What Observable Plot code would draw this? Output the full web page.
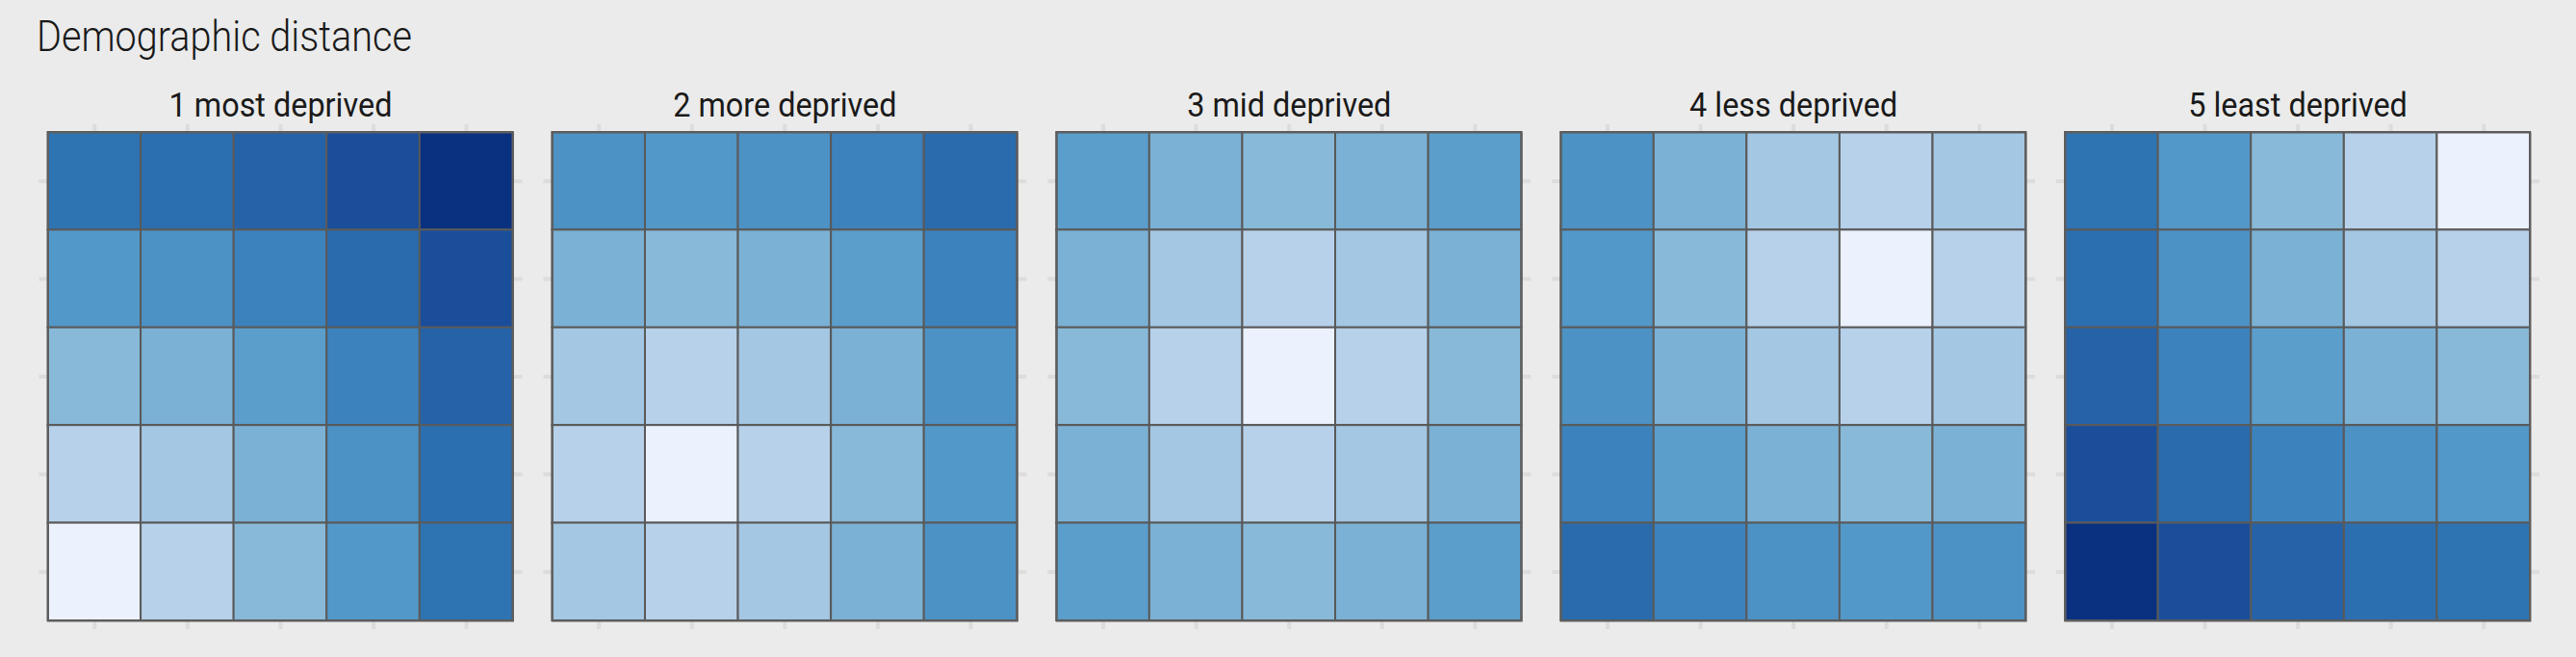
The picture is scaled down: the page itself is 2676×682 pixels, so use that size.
<!DOCTYPE html>
<html>
<head>
<meta charset="utf-8">
<script src="https://cdn.jsdelivr.net/npm/d3@7"></script>
<script src="https://cdn.jsdelivr.net/npm/@observablehq/plot@0.6"></script>
<style>
  html, body { margin: 0; padding: 0; background: #ebebeb; }
  #title { position: relative; height: 70px; width: 2676px; }
  #title span {
    position: absolute; left: 38px; top: 15.6px; display: block;
    font-family: Roboto, sans-serif; font-weight: 300; font-size: 44.5px; line-height: 1;
    color: #1a1a1a; white-space: nowrap; transform: scaleX(0.89); transform-origin: left top;
  }
</style>
</head>
<body>
<div id="title"><span>Demographic distance</span></div>
<div id="chart"></div>
<script>
// Facet categories
const quintiles = ["1 most deprived", "2 more deprived", "3 mid deprived", "4 less deprived", "5 least deprived"];
// Grid columns (left to right) and rows (top to bottom)
const columns = [1, 2, 3, 4, 5];
const rows = [5, 4, 3, 2, 1];

// Distance values per facet, rows listed top to bottom, columns left to right
const dist1 = [
  [4.00, 4.12, 4.47, 5.00, 5.66],
  [3.00, 3.16, 3.61, 4.24, 5.00],
  [2.00, 2.24, 2.83, 3.61, 4.47],
  [1.00, 1.41, 2.24, 3.16, 4.12],
  [0.00, 1.00, 2.00, 3.00, 4.00]
];
const dist2 = [
  [3.16, 3.00, 3.16, 3.61, 4.24],
  [2.24, 2.00, 2.24, 2.83, 3.61],
  [1.41, 1.00, 1.41, 2.24, 3.16],
  [1.00, 0.00, 1.00, 2.00, 3.00],
  [1.41, 1.00, 1.41, 2.24, 3.16]
];
const dist3 = [
  [2.83, 2.24, 2.00, 2.24, 2.83],
  [2.24, 1.41, 1.00, 1.41, 2.24],
  [2.00, 1.00, 0.00, 1.00, 2.00],
  [2.24, 1.41, 1.00, 1.41, 2.24],
  [2.83, 2.24, 2.00, 2.24, 2.83]
];
const dist4 = [
  [3.16, 2.24, 1.41, 1.00, 1.41],
  [3.00, 2.00, 1.00, 0.00, 1.00],
  [3.16, 2.24, 1.41, 1.00, 1.41],
  [3.61, 2.83, 2.24, 2.00, 2.24],
  [4.24, 3.61, 3.16, 3.00, 3.16]
];
const dist5 = [
  [4.00, 3.00, 2.00, 1.00, 0.00],
  [4.12, 3.16, 2.24, 1.41, 1.00],
  [4.47, 3.61, 2.83, 2.24, 2.00],
  [5.00, 4.24, 3.61, 3.16, 3.00],
  [5.66, 5.00, 4.47, 4.12, 4.00]
];

// Colour legend stops
const colorStops = [0, 1, 2, 3, 4, 5, 5.66];
const colorRange = ["#ebf1fd", "#b7d1ea", "#88b9d8", "#5298c9", "#2e74b3", "#1a4e9b", "#0a3080"];

const allDist = [dist1, dist2, dist3, dist4, dist5];
const table = [];
quintiles.forEach((q, qi) => {
  allDist[qi].forEach((rowVals, ri) => {
    rowVals.forEach((v, ci) => {
      table.push({quintile: q, row: rows[ri], col: columns[ci], dist: v});
    });
  });
});

const tickOpts = {tickSize: 9, tickFormat: () => "", label: null, stroke: "#dcdcdc", strokeWidth: 4, facetAnchor: null};

const chart = Plot.plot({
  width: 2676,
  height: 612,
  marginLeft: 49.5,
  marginRight: 48,
  marginTop: 67,
  marginBottom: 38,
  style: {background: "#ebebeb", fontFamily: "Roboto, sans-serif", overflow: "visible"},
  fx: {domain: quintiles, paddingInner: 0.0782, paddingOuter: 0, round: false, axis: null, label: null},
  x: {type: "band", domain: columns, padding: 0, round: false},
  y: {type: "band", domain: rows, padding: 0, round: false},
  color: {type: "linear", domain: colorStops, range: colorRange, interpolate: "rgb"},
  marks: [
    Plot.axisX({anchor: "top", ...tickOpts}),
    Plot.axisX({anchor: "bottom", ...tickOpts}),
    Plot.axisY({anchor: "left", ...tickOpts}),
    Plot.axisY({anchor: "right", ...tickOpts}),
    Plot.cell(table, {fx: "quintile", x: "col", y: "row", fill: "dist", stroke: "#5a5a5a", strokeWidth: 2}),
    Plot.frame({stroke: "#5e5e5e", strokeWidth: 2}),
    Plot.text(quintiles, {fx: d => d, text: d => d, frameAnchor: "top", dy: -17, lineAnchor: "bottom", fontSize: 36, fill: "#1a1a1a"})
  ]
});
document.getElementById("chart").appendChild(chart);

// condense facet labels (no condensed font available)
chart.querySelectorAll('g[aria-label="text"] text').forEach(t => {
  const b = t.getBBox();
  const cx = b.x + b.width / 2;
  const prev = t.getAttribute("transform") || "";
  t.setAttribute("transform", `${prev} translate(${cx},0) scale(0.9,1) translate(${-cx},0)`);
});
</script>
</body>
</html>
